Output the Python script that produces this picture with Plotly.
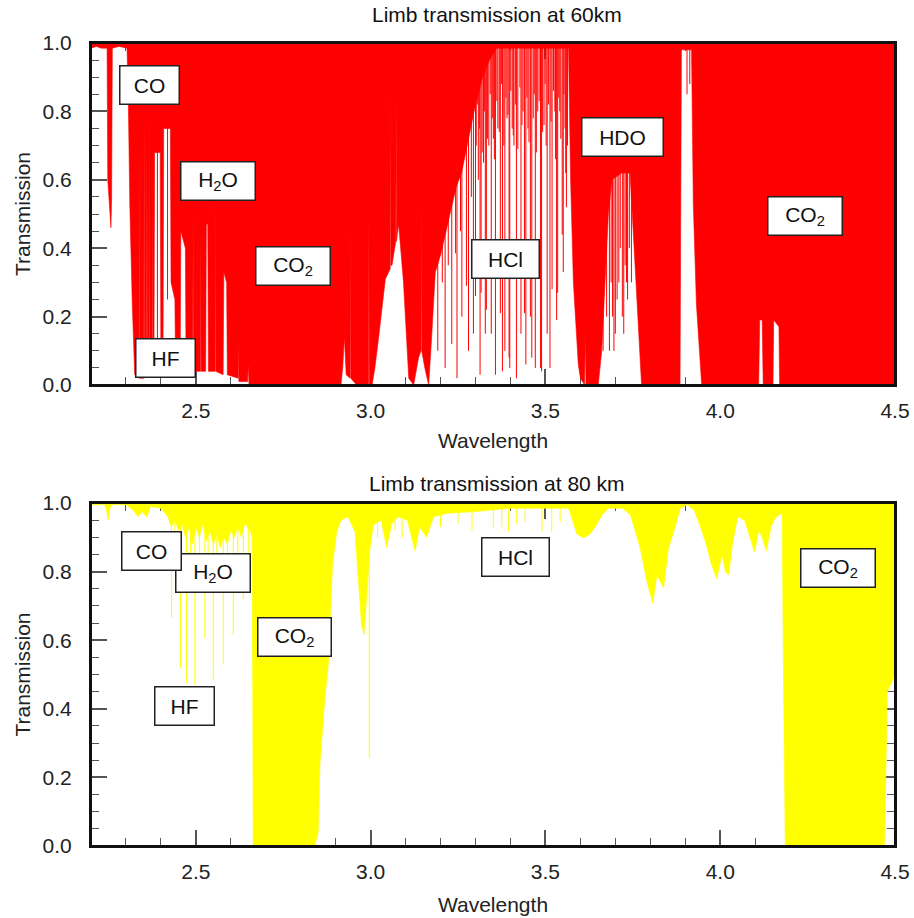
import plotly.graph_objects as go

# ---------------- data ----------------
# 60 km panel: transmission envelope
WAVE_TOP = [2.200, 2.215, 2.230, 2.246, 2.248, 2.254, 2.257, 2.259, 2.261, 2.280, 2.303,
            2.307, 2.311, 2.318, 2.325, 2.337, 2.338, 2.339, 2.347, 2.351, 2.352, 2.353,
            2.359, 2.360, 2.361, 2.367, 2.368, 2.369, 2.375, 2.376, 2.377, 2.380, 2.382,
            2.398, 2.400, 2.406, 2.408, 2.427, 2.429, 2.440, 2.442, 2.455, 2.457, 2.470,
            2.472, 2.491, 2.492, 2.493, 2.513, 2.514, 2.515, 2.528, 2.530, 2.534, 2.536,
            2.555, 2.556, 2.557, 2.578, 2.580, 2.588, 2.590, 2.621, 2.622, 2.623, 2.648,
            2.650, 2.652, 2.915, 2.920, 2.925, 2.930, 2.941, 2.942, 2.943, 2.960, 2.994,
            2.995, 2.996, 3.004, 3.012, 3.023, 3.042, 3.056, 3.057, 3.058, 3.061, 3.072,
            3.073, 3.074, 3.080, 3.094, 3.109, 3.123, 3.137, 3.144, 3.145, 3.146, 3.155,
            3.166, 3.175, 3.185, 3.200, 3.215, 3.230, 3.245, 3.260, 3.280, 3.300, 3.320,
            3.340, 3.360, 3.450, 3.566, 3.572, 3.580, 3.594, 3.600, 3.612, 3.614, 3.616,
            3.651, 3.661, 3.671, 3.680, 3.690, 3.718, 3.742, 3.751, 3.761, 3.775, 3.885,
            3.887, 3.889, 3.918, 3.923, 3.932, 3.947, 4.110, 4.113, 4.120, 4.123, 4.151,
            4.153, 4.168, 4.170, 4.500]
TRANS_TOP = [0.985, 0.990, 0.985, 0.985, 0.60, 0.50, 0.46, 0.55, 0.985, 0.990, 0.985,
             0.82, 0.53, 0.24, 0.03, 0.02, 0.70, 0.02, 0.02, 0.02, 0.80, 0.02,
             0.03, 0.72, 0.03, 0.05, 0.80, 0.05, 0.05, 0.62, 0.05, 0.05, 0.68,
             0.68, 0.05, 0.05, 0.75, 0.75, 0.30, 0.25, 0.04, 0.04, 0.45, 0.40,
             0.04, 0.04, 0.50, 0.04, 0.04, 0.45, 0.04, 0.04, 0.47, 0.47, 0.04,
             0.04, 0.55, 0.04, 0.03, 0.33, 0.30, 0.03, 0.02, 0.14, 0.01, 0.01,
             0.06, 0.0, 0.0, 0.05, 0.14, 0.03, 0.02, 0.48, 0.02, 0.0, 0.0,
             0.50, 0.0, 0.0, 0.05, 0.14, 0.31, 0.34, 0.88, 0.35, 0.35, 0.42,
             0.85, 0.42, 0.47, 0.30, 0.02, 0.0, 0.08, 0.10, 0.55, 0.10, 0.05,
             0.0, 0.15, 0.33, 0.38, 0.45, 0.52, 0.58, 0.62, 0.72, 0.82, 0.90,
             0.95, 0.985, 0.985, 0.985, 0.60, 0.30, 0.06, 0.02, 0.0, 0.15, 0.0,
             0.0, 0.10, 0.30, 0.50, 0.60, 0.62, 0.62, 0.45, 0.25, 0.0, 0.0,
             0.40, 0.98, 0.98, 0.53, 0.235, 0.0, 0.0, 0.19, 0.19, 0.0, 0.0,
             0.19, 0.17, 0.0, 0.0]

# 60 km panel: individual absorption lines (position, minimum transmission)
LINES_TOP_W = [2.390, 2.419,
               3.192, 3.205, 3.213, 3.222, 3.232, 3.243, 3.247, 3.257, 3.261, 3.274,
               3.280, 3.288, 3.294, 3.300, 3.308, 3.313, 3.316, 3.323, 3.328, 3.331,
               3.338, 3.345, 3.351, 3.357, 3.364, 3.371, 3.377, 3.384, 3.390, 3.396,
               3.398, 3.405, 3.410, 3.417, 3.430, 3.436, 3.440, 3.444, 3.450, 3.457,
               3.461, 3.465, 3.471, 3.478, 3.486, 3.489, 3.496, 3.505, 3.513, 3.519,
               3.527, 3.532, 3.535, 3.541, 3.548, 3.551, 3.556, 3.560,
               3.302, 3.306, 3.311, 3.319, 3.326, 3.334, 3.342, 3.348, 3.354, 3.361,
               3.368, 3.374, 3.381, 3.387, 3.393, 3.401, 3.408, 3.414, 3.421, 3.427,
               3.433, 3.447, 3.453, 3.468, 3.474, 3.482, 3.492, 3.499, 3.502, 3.509,
               3.516, 3.523, 3.529, 3.538, 3.544, 3.553, 3.558, 3.563,
               3.665, 3.675, 3.683, 3.688, 3.692, 3.696, 3.700, 3.705, 3.710, 3.714,
               3.720, 3.724, 3.728, 3.732, 3.735, 3.740, 3.746,
               3.905, 3.913]
LINES_TOP_T = [0.10, 0.25,
               0.10, 0.30, 0.05, 0.35, 0.12, 0.385, 0.02, 0.45, 0.20, 0.29,
               0.10, 0.55, 0.15, 0.26, 0.60, 0.03, 0.27, 0.65, 0.15, 0.22,
               0.70, 0.15, 0.72, 0.03, 0.75, 0.21, 0.04, 0.10, 0.78, 0.08,
               0.05, 0.75, 0.70, 0.02, 0.15, 0.80, 0.21, 0.06, 0.75, 0.20,
               0.08, 0.78, 0.05, 0.80, 0.05, 0.04, 0.76, 0.15, 0.05, 0.28,
               0.80, 0.19, 0.27, 0.80, 0.44, 0.33, 0.75, 0.52,
               0.70, 0.82, 0.75, 0.68, 0.80, 0.72, 0.85, 0.78, 0.66, 0.83,
               0.74, 0.88, 0.70, 0.84, 0.79, 0.86, 0.73, 0.82, 0.69, 0.87,
               0.76, 0.84, 0.71, 0.85, 0.68, 0.83, 0.74, 0.88, 0.70, 0.82,
               0.77, 0.86, 0.66, 0.84, 0.72, 0.85, 0.62, 0.70,
               0.10, 0.20, 0.10, 0.30, 0.20, 0.10, 0.15, 0.25, 0.30, 0.40,
               0.20, 0.15, 0.35, 0.30, 0.25, 0.40, 0.30,
               0.85, 0.88]

# 80 km panel: transmission envelope
WAVE_BOT = [2.200, 2.240, 2.245, 2.249, 2.253, 2.258, 2.300, 2.320, 2.335, 2.345, 2.360,
            2.370, 2.400, 2.420, 2.430, 2.440, 2.450, 2.460, 2.470, 2.480, 2.490, 2.500,
            2.510, 2.520, 2.530, 2.540, 2.550, 2.560, 2.570, 2.580, 2.590, 2.600, 2.610,
            2.620, 2.630, 2.640, 2.655, 2.661, 2.664, 2.840, 2.850, 2.855, 2.869, 2.879,
            2.891, 2.903, 2.915, 2.935, 2.955, 2.965, 2.974, 2.981, 2.989, 2.998, 3.008,
            3.030, 3.046, 3.060, 3.080, 3.105, 3.127, 3.140, 3.160, 3.180, 3.220, 3.300,
            3.400, 3.566, 3.571, 3.590, 3.609, 3.628, 3.642, 3.662, 3.680, 3.720, 3.743,
            3.771, 3.790, 3.807, 3.819, 3.838, 3.852, 3.867, 3.886, 3.905, 3.925, 3.940,
            3.960, 3.975, 3.990, 4.005, 4.015, 4.024, 4.035, 4.050, 4.070, 4.085, 4.098,
            4.110, 4.120, 4.132, 4.145, 4.160, 4.177, 4.181, 4.186, 4.470, 4.478, 4.500]
TRANS_BOT = [0.995, 0.995, 0.975, 0.95, 0.98, 0.995, 0.995, 0.98, 0.96, 0.975, 0.96,
             0.99, 0.985, 0.96, 0.93, 0.95, 0.92, 0.94, 0.90, 0.93, 0.88, 0.93,
             0.90, 0.94, 0.89, 0.92, 0.88, 0.91, 0.87, 0.90, 0.88, 0.92, 0.90,
             0.93, 0.90, 0.94, 0.92, 0.90, 0.0, 0.0, 0.04, 0.24, 0.43, 0.53,
             0.82, 0.917, 0.95, 0.96, 0.917, 0.772, 0.645, 0.616, 0.723, 0.868, 0.937,
             0.95, 0.87, 0.94, 0.96, 0.95, 0.86, 0.93, 0.90, 0.96, 0.97, 0.975,
             0.985, 0.985, 0.97, 0.91, 0.898, 0.91, 0.93, 0.965, 0.985, 0.985, 0.966,
             0.869, 0.772, 0.708, 0.79, 0.752, 0.869, 0.917, 0.985, 0.995, 0.98, 0.94,
             0.88, 0.82, 0.78, 0.85, 0.80, 0.79, 0.88, 0.96, 0.95, 0.90, 0.857,
             0.92, 0.90, 0.86, 0.93, 0.96, 0.97, 0.50, 0.0, 0.0, 0.45, 0.50]

# 80 km panel: individual absorption lines
LINES_BOT_W = [2.4305, 2.4563, 2.4735, 2.4973, 2.5259, 2.5498, 2.5784, 2.607, 2.6357,
               2.440, 2.485, 2.510, 2.535, 2.560, 2.590, 2.620, 2.650,
               2.996, 3.020, 3.070, 3.090, 3.200, 3.250, 3.290,
               3.351, 3.375, 3.394, 3.418, 3.442, 3.490, 3.518, 3.542]
LINES_BOT_T = [0.665, 0.52, 0.475, 0.47, 0.606, 0.485, 0.529, 0.616, 0.72,
               0.85, 0.80, 0.82, 0.78, 0.80, 0.82, 0.84, 0.85,
               0.256, 0.90, 0.92, 0.90, 0.93, 0.94, 0.92,
               0.927, 0.93, 0.917, 0.94, 0.945, 0.917, 0.917, 0.945]

# tick labels / axis settings
X_RANGE = [2.2, 4.5]
X_TICKS = [2.5, 3.0, 3.5, 4.0, 4.5]
Y_TICKS = [0.0, 0.2, 0.4, 0.6, 0.8, 1.0]

# molecule labels
TOP_LABELS = ["CO", "H<sub>2</sub>O", "CO<sub>2</sub>", "HF", "HCl", "HDO", "CO<sub>2</sub>"]
TOP_LABEL_X = [2.366, 2.563, 2.777, 2.414, 3.386, 3.720, 4.243]
TOP_LABEL_Y = [0.877, 0.596, 0.348, 0.079, 0.368, 0.725, 0.494]
TOP_LABEL_WIDTH = [58, 73, 73, 58, 66, 80, 73]

BOT_LABELS = ["H<sub>2</sub>O", "CO", "CO<sub>2</sub>", "HF", "HCl", "CO<sub>2</sub>"]
BOT_LABEL_X = [2.549, 2.374, 2.782, 2.468, 3.415, 4.338]
BOT_LABEL_Y = [0.796, 0.860, 0.609, 0.408, 0.843, 0.810]
BOT_LABEL_WIDTH = [73, 58, 72, 58, 66, 73]

TITLES = ["Limb transmission at 60km", "Limb transmission at 80 km"]

# ---------------- figure ----------------
FONT = "Liberation Sans, Arial, sans-serif"
RED = "#ff0000"
YELLOW = "#ffff00"

fig = go.Figure()


def add_panel(wave, trans, lw, lt, color, xa, ya):
    fig.add_trace(go.Scatter(x=wave, y=[1.0] * len(wave), mode="lines",
                             line=dict(width=0, color=color), hoverinfo="skip",
                             showlegend=False, xaxis=xa, yaxis=ya))
    fig.add_trace(go.Scatter(x=wave, y=trans, mode="lines", fill="tonexty",
                             fillcolor=color, line=dict(width=0.6, color=color),
                             showlegend=False, xaxis=xa, yaxis=ya))
    sx, sy = [], []
    for w, t in zip(lw, lt):
        sx += [w, w, None]
        sy += [t, 1.0, None]
    fig.add_trace(go.Scatter(x=sx, y=sy, mode="lines", line=dict(width=1.0, color=color),
                             showlegend=False, hoverinfo="skip", xaxis=xa, yaxis=ya))


add_panel(WAVE_TOP, TRANS_TOP, LINES_TOP_W, LINES_TOP_T, RED, "x", "y")
add_panel(WAVE_BOT, TRANS_BOT, LINES_BOT_W, LINES_BOT_T, YELLOW, "x2", "y2")

tickfont = dict(family=FONT, size=21, color="#222")
titlefont = dict(family=FONT, size=21, color="#222")


def xaxis_cfg(standoff):
    return dict(range=X_RANGE, tickvals=X_TICKS, ticktext=[f"{v:.1f}" for v in X_TICKS],
                ticks="inside", ticklen=16, tickwidth=1.5, tickcolor="#555",
                minor=dict(dtick=0.1, tick0=2.2, ticks="inside", ticklen=8, tickwidth=1.2,
                           tickcolor="#555", showgrid=False),
                showline=True, linecolor="#111", linewidth=2, mirror="allticks",
                showgrid=False, zeroline=False, layer="below traces", automargin=False,
                tickfont=tickfont, ticklabelstandoff=6,
                title=dict(text="Wavelength", font=titlefont, standoff=standoff))


ycommon = dict(range=[0, 1], tickvals=Y_TICKS, ticktext=[f"{v:.1f}" for v in Y_TICKS],
               ticks="inside", ticklen=16, tickwidth=1.5, tickcolor="#555",
               minor=dict(dtick=0.05, tick0=0, ticks="inside", ticklen=8, tickwidth=1.2,
                          tickcolor="#555", showgrid=False),
               showline=True, linecolor="#111", linewidth=2, mirror="allticks",
               showgrid=False, zeroline=False, layer="below traces", automargin=False,
               tickfont=tickfont, ticklabelstandoff=13,
               title=dict(text="Transmission", font=titlefont, standoff=6))

fig.update_layout(
    width=914, height=918,
    margin=dict(l=91, r=19, t=43, b=72, autoexpand=False),
    paper_bgcolor="white", plot_bgcolor="white",
    font=dict(family=FONT, color="#222"),
    xaxis=dict(domain=[0, 1], anchor="y", **xaxis_cfg(12)),
    yaxis=dict(domain=[0.5741, 1.0], anchor="x", **ycommon),
    xaxis2=dict(domain=[0, 1], anchor="y2", **xaxis_cfg(15)),
    yaxis2=dict(domain=[0.0, 0.4271], anchor="x2", **ycommon),
)

# frame on top of the fills
for xr, yr in (("x domain", "y domain"), ("x2 domain", "y2 domain")):
    fig.add_shape(type="rect", xref=xr, yref=yr, x0=0, x1=1, y0=0, y1=1,
                  line=dict(color="#111", width=2), layer="above")

annotations = []
for txt, x, y, wd in zip(TOP_LABELS, TOP_LABEL_X, TOP_LABEL_Y, TOP_LABEL_WIDTH):
    annotations.append(dict(text=txt, x=x, y=y, xref="x", yref="y", showarrow=False,
                            font=dict(family=FONT, size=21, color="#111"),
                            bgcolor="white", bordercolor="#222", borderwidth=1.5,
                            borderpad=0, width=wd, height=37))
for txt, x, y, wd in zip(BOT_LABELS, BOT_LABEL_X, BOT_LABEL_Y, BOT_LABEL_WIDTH):
    annotations.append(dict(text=txt, x=x, y=y, xref="x2", yref="y2", showarrow=False,
                            font=dict(family=FONT, size=21, color="#111"),
                            bgcolor="white", bordercolor="#222", borderwidth=1.5,
                            borderpad=0, width=wd, height=37))
annotations.append(dict(text=TITLES[0], x=0.505, y=1.0349, xref="paper", yref="paper",
                        showarrow=False, font=dict(family=FONT, size=21, color="#111"),
                        xanchor="center", yanchor="middle"))
annotations.append(dict(text=TITLES[1], x=0.505, y=0.452, xref="paper", yref="paper",
                        showarrow=False, font=dict(family=FONT, size=21, color="#111"),
                        xanchor="center", yanchor="middle"))
fig.update_layout(annotations=annotations)

fig.write_html("out.html")
